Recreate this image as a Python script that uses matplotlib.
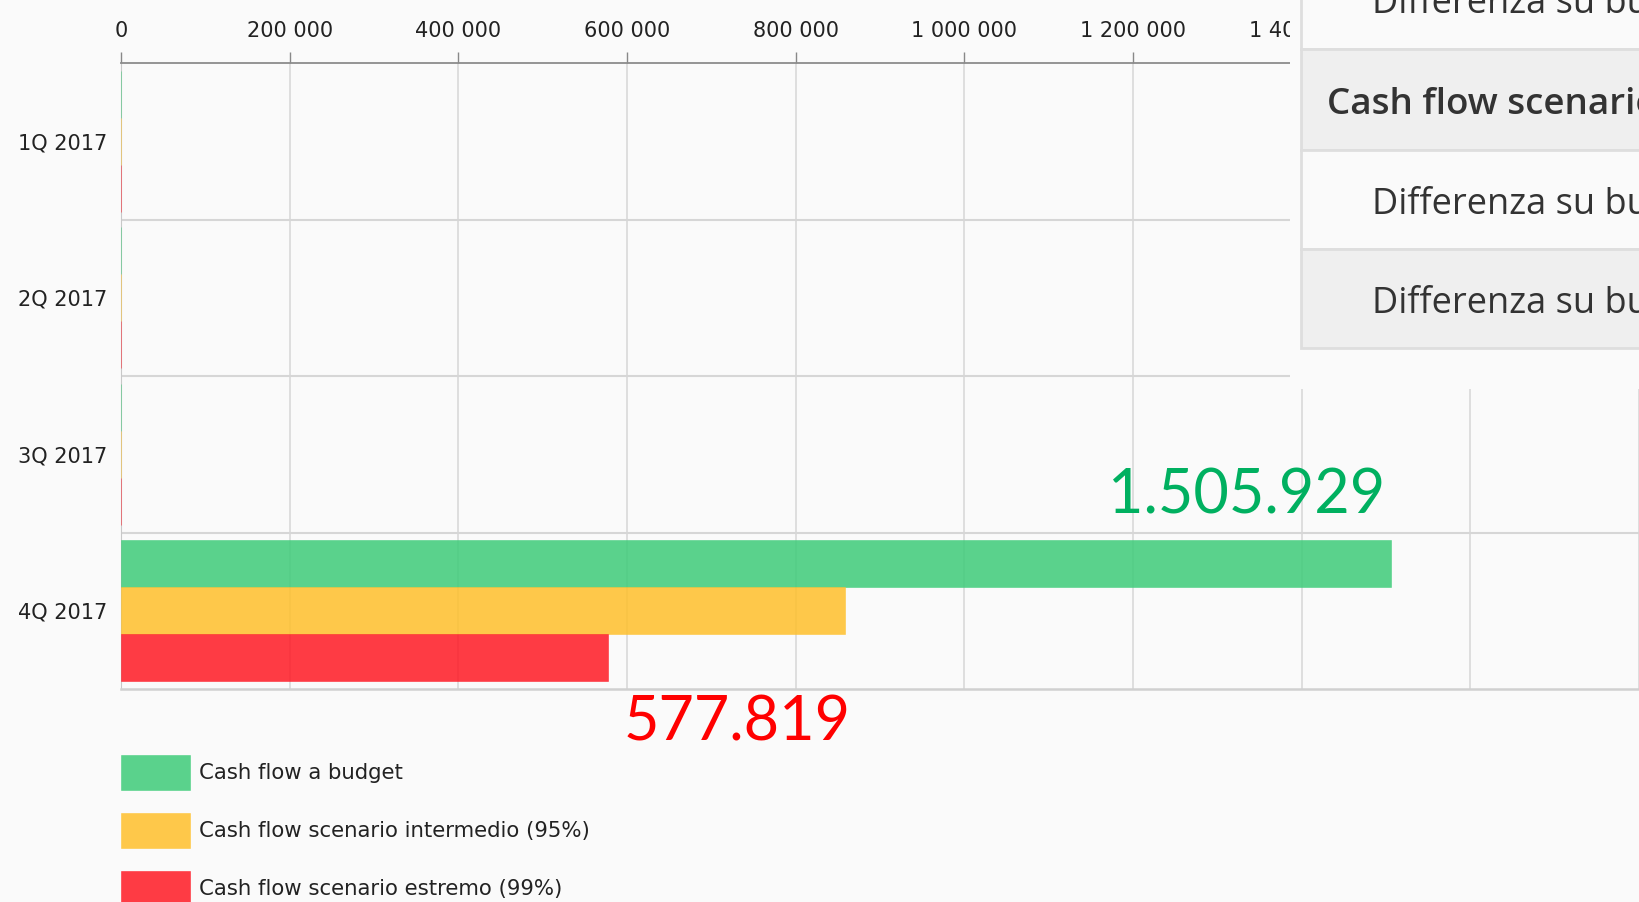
import numpy as np
import matplotlib
matplotlib.use("Agg")
import matplotlib.pyplot as plt
from matplotlib.patches import Rectangle

quarters = ["1Q 2017", "2Q 2017", "3Q 2017", "4Q 2017"]
budget = [0, 0, 0, 1505929]
intermedio = [0, 0, 0, 858000]
estremo = [0, 0, 0, 577819]
series_labels = ["Cash flow a budget",
                 "Cash flow scenario intermedio (95%)",
                 "Cash flow scenario estremo (99%)"]
x_ticks = [0, 200000, 400000, 600000, 800000, 1000000, 1200000, 1400000, 1600000, 1800000]
panel_rows = ["Differenza su budget", "Cash flow scenario estremo (99%)",
              "Differenza su budget", "Differenza su budget"]

W, H = 1639, 902
BG = "#fafafa"
colors = ["#3ecc79", "#ffc02b", "#ff1924"]

fig = plt.figure(figsize=(W / 100, H / 100), dpi=100, facecolor=BG)
ax = fig.add_axes([121 / W, 1 - 689 / H, (W - 121) / W, 626 / H], facecolor=BG)

y = np.arange(len(quarters))
bw = 0.3
for k, (vals, c, lab) in enumerate(zip([budget, intermedio, estremo], colors, series_labels)):
    ax.barh(y + (k - 1) * bw, vals, height=bw, color=c, alpha=0.85,
            edgecolor=c, lw=0.4, label=lab, zorder=3)

ax.set_ylim(3.5, -0.5)
ax.set_xlim(0, 1800000)
ax.set_yticks(y)
ax.set_yticklabels(quarters)
ax.set_yticks([0.5, 1.5, 2.5], minor=True)
ax.set_xticks(x_ticks)
ax.set_xticklabels([f"{v:,}".replace(",", " ") for v in x_ticks])
ax.xaxis.tick_top()

ax.tick_params(axis="x", length=8, color="#888888", width=1, pad=8,
               labelsize=15, labelcolor="#222222")
ax.tick_params(axis="y", which="both", length=0, pad=10, labelsize=15, labelcolor="#222222")
ax.grid(axis="x", color="#d9d9d9", lw=1.2, zorder=0)
ax.grid(axis="y", which="minor", color="#d6d6d6", lw=1.5, zorder=0)
ax.set_axisbelow(True)
ax.spines["right"].set_visible(False)
ax.spines["top"].set_color("#8c8c8c")
ax.spines["top"].set_linewidth(1.3)
ax.spines["left"].set_color("#c8c8c8")
ax.spines["bottom"].set_color("#d0d0d0")
ax.spines["bottom"].set_linewidth(1.8)

# value callouts
ax.annotate(f"{budget[3]:,}".replace(",", "."), xy=(budget[3], 3 - bw),
            xytext=(-4, 49), textcoords="offset points", ha="right", va="center",
            fontsize=44, family="Lato", color="#00b060", zorder=6)
ax.annotate(f"{estremo[3]:,}".replace(",", "."), xy=(estremo[3], 3 + bw),
            xytext=(11, -47), textcoords="offset points", ha="left", va="center",
            fontsize=44, family="Lato", color="#ff0000", zorder=6, annotation_clip=False)

ax.legend(loc="upper left", bbox_to_anchor=(121 / W, 1 - 755 / H),
          bbox_transform=fig.transFigure, frameon=False, fontsize=15.3,
          handlelength=3.25, handleheight=2.15, labelspacing=1.08,
          handletextpad=0.42, borderpad=0, borderaxespad=0,
          labelcolor="#222222")

# overlapping table panel on the right
def fig_rect(x0, y0, x1, y1, **kw):
    r = Rectangle((x0 / W, 1 - y1 / H), (x1 - x0) / W, (y1 - y0) / H,
                  transform=fig.transFigure, **kw)
    fig.patches.append(r)

fig_rect(1290, -5, W + 5, 389, facecolor=BG, edgecolor="none", zorder=10)
row_edges = [-52, 49, 150, 249, 348]
row_fc = [BG, "#efefef", BG, "#efefef"]
for i in range(4):
    fig_rect(1301, row_edges[i], W + 5, row_edges[i + 1], facecolor=row_fc[i],
             edgecolor="#dedede", lw=2, zorder=11)
    cy = (row_edges[i] + row_edges[i + 1]) / 2 + 5
    bold = i == 1
    fig.text((1327 if bold else 1372) / W, 1 - cy / H, panel_rows[i],
             ha="left", va="center", fontsize=26.5 if bold else 26, family="Open Sans",
             weight="semibold" if bold else "normal", color="#333333", zorder=12)

fig.savefig("out.png", dpi=100, facecolor=BG)
